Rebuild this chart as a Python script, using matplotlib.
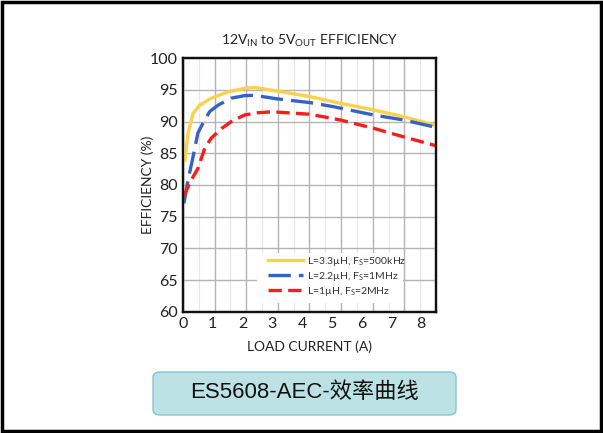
import matplotlib.pyplot as plt
import numpy as np
from matplotlib.patches import Rectangle, FancyBboxPatch

# load current (A) and efficiency (%)
x_33 = [0.06, 0.17, 0.34, 0.56, 0.95, 1.51, 2.07, 2.4, 3.15, 4.27, 5.28, 6.4, 7.41, 8.5]
eff_33 = [83.9, 88.2, 91.3, 92.6, 93.7, 94.7, 95.25, 95.38, 94.84, 93.94, 92.9, 91.84, 90.78, 89.4]

x_22 = [0.03, 0.17, 0.34, 0.5, 0.73, 0.9, 1.18, 1.62, 2.07, 2.4, 3.15, 4.27, 5.05, 6.4, 7.41, 8.5]
eff_22 = [77.1, 80.8, 84.5, 88.2, 90.3, 91.6, 92.6, 93.7, 94.1, 94.15, 93.6, 93.0, 92.36, 91.05, 90.26, 89.1]

x_1 = [0.02, 0.28, 0.5, 0.73, 0.95, 1.29, 1.62, 2.07, 2.52, 3.0, 4.27, 5.28, 6.4, 7.41, 8.5]
eff_1 = [78.2, 80.8, 82.6, 85.8, 87.4, 88.9, 90.0, 91.05, 91.4, 91.55, 91.16, 90.26, 88.95, 87.6, 86.2]

labels = [r'L=3.3µH, F$_\mathregular{S}$=500kHz',
          r'L=2.2µH, F$_\mathregular{S}$=1MHz',
          r'L=1µH, F$_\mathregular{S}$=2MHz']

plt.rcParams['font.family'] = ['Lato', 'DejaVu Sans']
plt.rcParams['mathtext.fontset'] = 'custom'
plt.rcParams['mathtext.rm'] = 'Lato'

fig = plt.figure(figsize=(6.03, 4.33), dpi=100)
ax = fig.add_axes([0.3035, 0.280, 0.4195, 0.5855])

# grid from a twin axis: the reference grid has 8 columns across the plot
grid_ax = ax.twiny()
grid_ax.set_xlim(0, 8)
grid_ax.set_xticks(np.arange(0, 9, 1))
grid_ax.set_xticks(np.arange(0.5, 8, 1), minor=True)
grid_ax.grid(which='major', color='#b4b4b4', lw=1.0)
grid_ax.grid(which='minor', color='#e6e6e6', lw=0.8)
grid_ax.tick_params(which='both', length=0, labeltop=False)
grid_ax.set_zorder(0)
ax.set_zorder(1)
ax.patch.set_visible(False)

ax.plot(x_33, eff_33, color='#fbd14b', lw=2.4, label=labels[0])
ax.plot(x_22, eff_22, color='#3563c3', lw=2.4, dashes=(6.7, 2.4), label=labels[1])
ax.plot(x_1, eff_1, color='#fb1c1c', lw=2.4, dashes=(4, 1.9), label=labels[2])

ax.set_xlim(0, 8.5)
ax.set_ylim(60, 100)
ax.set_xticks(np.arange(0, 9, 1))
ax.set_yticks(np.arange(60, 101, 5))
ax.grid(axis='y', color='#b4b4b4', lw=1.0)
ax.tick_params(which='both', length=0, labelsize=11.5, pad=4, colors='#222222')
for a in (ax, grid_ax):
    for s in a.spines.values():
        s.set_linewidth(1.6)
        s.set_color('#111111')

ax.set_title(r'12V$_\mathregular{IN}$ to 5V$_\mathregular{OUT}$ EFFICIENCY', fontsize=10, pad=9.5, color='#222222')
ax.set_xlabel('LOAD CURRENT (A)', fontsize=10, labelpad=6.5, color='#222222')
ax.set_ylabel('EFFICIENCY (%)', fontsize=10, labelpad=-3, color='#222222')

# white patch behind the legend hides the grid there
ax.add_patch(Rectangle((0.292, 0.034), 0.577, 0.198, transform=ax.transAxes,
                       facecolor='white', edgecolor='none', zorder=1.8))
leg = ax.legend(loc='upper left', bbox_to_anchor=(0.323, 0.236), fontsize=7.5, frameon=False,
                handlelength=3.4, handletextpad=0.35, labelspacing=0.17, borderpad=0.3,
                borderaxespad=0)
for t in leg.get_texts():
    t.set_color('#333333')

# caption box at the bottom
box = FancyBboxPatch((153 / 603, 1 - 415 / 433), 303 / 603, 43 / 433,
                     boxstyle='round,pad=0,rounding_size=0.012', transform=fig.transFigure,
                     facecolor='#bce2e5', edgecolor='#84c6cd', lw=1.0)
fig.patches.append(box)
fig.text(304 / 603, 1 - 393 / 433, 'ES5608-AEC-效率曲线', ha='center', va='center',
         fontsize=16, family=['Liberation Sans', 'Noto Sans CJK SC'], color='#111111')

# outer black frame
fig.patches.append(Rectangle((0.003, 0.004), 0.994, 0.992, transform=fig.transFigure,
                             fill=False, edgecolor='black', lw=2.5))

fig.savefig('out.png', dpi=100)
